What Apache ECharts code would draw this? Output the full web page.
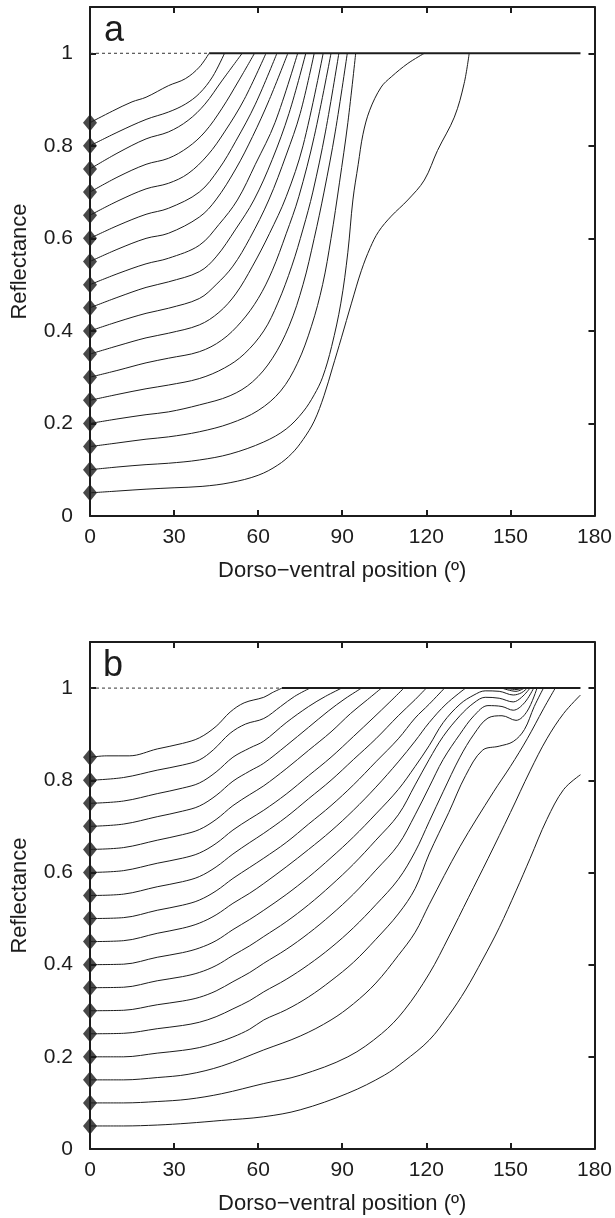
<!DOCTYPE html>
<html>
<head>
<meta charset="utf-8">
<script src="https://cdn.jsdelivr.net/npm/echarts@6/dist/echarts.min.js"></script>
<style>
html,body{margin:0;padding:0;background:#fff;}
#chart{width:615px;height:1218px;}
</style>
</head>
<body>
<div id="chart"></div>
<script>
// ---------- tick labels ----------
const xTicks = [0, 30, 60, 90, 120, 150, 180];
const yTicks = [0, 0.2, 0.4, 0.6, 0.8, 1];
const yTickLabels = ['0', '0.2', '0.4', '0.6', '0.8', '1'];
const startValues = [0.05,0.10,0.15,0.20,0.25,0.30,0.35,0.40,0.45,0.50,0.55,0.60,0.65,0.70,0.75,0.80,0.85];
const panelLabels = ['a', 'b'];
const xTitle = 'Dorso\u2212ventral position (\u00ba)';
const yTitle = 'Reflectance';

// ---------- panel a curves [position, reflectance] ----------
const a05 = [[0,.05],[10,.054],[20,.058],[30,.061],[40,.064],[50,.072],[60,.088],[67,.11],[72,.135],[76,.165],[80,.205],[83.5,.26],[86.5,.32],[89.7,.385],[93.3,.46],[96.8,.53],[100,.58],[103,.615],[107.5,.648],[113.4,.683],[119.3,.726],[124,.79],[130,.862],[133.5,.935],[135.3,1]];
const a10 = [[0,.1],[10,.106],[20,.111],[28,.114],[39,.121],[50,.134],[62,.16],[70,.188],[76,.225],[80,.262],[83,.3],[86.2,.366],[89.5,.46],[92,.57],[93.8,.683],[95.7,.76],[97.4,.825],[99.8,.877],[103.9,.927],[107.5,.949],[113.4,.978],[119.3,1]];
const a15 = [[0,.15],[10,.158],[20,.166],[28,.171],[39,.182],[50,.2],[60,.228],[68,.27],[74,.33],[79,.41],[83,.5],[86,.6],[89,.72],[92,.85],[94.8,1]];
const a20 = [[0,.2],[10,.21],[20,.219],[28,.225],[39,.24],[50,.26],[58,.29],[65,.34],[71,.41],[76,.5],[80,.6],[83.5,.7],[87.5,.83],[91.8,1]];
const a25 = [[0,.25],[10,.263],[20,.275],[28,.283],[39,.297],[48,.32],[55,.35],[62,.4],[67,.46],[72,.54],[76,.62],[79.5,.7],[84,.83],[88.8,1]];
const a30 = [[0,.3],[10,.315],[20,.331],[28,.341],[39,.355],[47,.38],[54,.42],[60,.47],[65,.53],[70,.61],[74.5,.69],[80,.82],[86,1]];
const a35 = [[0,.35],[10,.368],[20,.385],[28,.395],[39,.413],[46,.44],[52,.48],[58,.54],[64,.61],[70,.69],[76,.8],[83.2,1]];
const a40 = [[0,.4],[10,.42],[20,.438],[28,.449],[39,.47],[45,.5],[51,.54],[57,.6],[63.8,.683],[70,.78],[75,.87],[80,1]];
const a45 = [[0,.45],[10,.473],[20,.494],[28,.506],[39,.528],[45,.56],[52,.62],[58.5,.683],[65,.77],[71,.87],[77,1]];
const a50 = [[0,.5],[10,.524],[20,.545],[28,.557],[39,.585],[46,.63],[52.6,.683],[59,.76],[66,.85],[74.1,1]];
const a55 = [[0,.55],[10,.577],[20,.6],[28,.611],[39,.646],[44.9,.683],[52,.75],[58,.82],[64,.9],[70.6,1]];
const a60 = [[0,.6],[10,.628],[20,.652],[28,.665],[39,.7],[46,.75],[52,.81],[59,.89],[66.7,1]];
const a65 = [[0,.65],[10,.681],[20,.707],[28,.719],[35,.74],[42,.78],[48,.83],[55,.9],[62.8,1]];
const a70 = [[0,.7],[10,.733],[20,.76],[28,.773],[35,.797],[41,.83],[47,.88],[53,.94],[58.7,1]];
const a75 = [[0,.75],[10,.785],[20,.815],[28,.83],[35,.855],[41,.89],[47,.94],[54.3,1]];
const a80 = [[0,.8],[10,.83],[20,.857],[28,.873],[34,.89],[39,.913],[43.7,.949],[48,1]];
const a85 = [[0,.85],[8,.875],[15,.895],[20,.905],[28,.93],[34,.945],[39,.97],[42.5,1]];
const aDashed = [[0,1],[42.5,1]];
const aSolid = [[42.5,1],[175,1]];

// ---------- panel b curves ----------
const b05 = [[0,.05],[12,.05],[24,.052],[35,.056],[47,.062],[62,.07],[75,.085],[92,.121],[105,.16],[112,.19],[121,.236],[128,.29],[134,.345],[140,.41],[146,.48],[152,.56],[157,.63],[163,.715],[169,.78],[175,.812]];
const b10 = [[0,.1],[12,.1],[24,.103],[35,.108],[47,.12],[62,.142],[75,.16],[92,.2],[104,.25],[112,.3],[121,.38],[128,.46],[135,.545],[142,.63],[150,.73],[157,.82],[163,.89],[169,.945],[175,.985]];
const b15 = [[0,.15],[12,.15],[24,.155],[35,.162],[47,.18],[62,.215],[75,.245],[86,.28],[94,.315],[102,.36],[110,.42],[116,.47],[121,.53],[132,.656],[144,.775],[150,.83],[156,.89],[161.8,.955],[166,1]];
const b20 = [[0,.2],[12,.2],[24,.208],[33,.214],[39,.22],[45,.23],[51,.243],[57,.26],[62,.28],[70,.302],[78,.33],[86,.365],[94,.405],[102,.455],[110,.51],[116,.565],[121,.64],[128,.73],[134,.81],[140,.865],[146,.874],[151,.884],[155,.91],[158.5,.96],[161.8,1]];
const b25 = [[0,.25],[12,.251],[24,.261],[33,.268],[39,.275],[45,.287],[51,.304],[57,.322],[62,.341],[70,.368],[78,.4],[86,.437],[94,.48],[102,.53],[110,.585],[116,.645],[121,.71],[126,.775],[132,.85],[137,.9],[142,.935],[147,.94],[152,.93],[156,.95],[159.5,1]];
const b30 = [[0,.3],[12,.301],[24,.313],[33,.321],[39,.329],[45,.343],[51,.363],[57,.383],[62,.403],[70,.433],[78,.468],[86,.508],[94,.553],[102,.605],[110,.66],[116,.725],[121,.785],[126,.845],[132,.9],[137,.94],[142,.962],[147,.96],[151,.952],[155,.968],[158.3,1]];
const b35 = [[0,.35],[12,.351],[24,.365],[33,.374],[39,.383],[45,.398],[51,.42],[57,.441],[62,.461],[70,.493],[78,.53],[86,.572],[94,.618],[102,.67],[110,.725],[116,.79],[121,.845],[126,.895],[132,.94],[137,.968],[141,.98],[146,.978],[151,.97],[154,.98],[157,1]];
const b40 = [[0,.4],[12,.401],[24,.416],[33,.426],[39,.436],[45,.452],[51,.476],[57,.498],[62,.518],[70,.552],[78,.59],[86,.632],[94,.677],[102,.727],[110,.78],[116,.83],[121,.875],[126,.925],[132,.965],[137,.985],[141,.994],[146,.993],[151,.985],[154,.99],[156,1]];
const b45 = [[0,.45],[12,.452],[24,.468],[33,.479],[39,.49],[45,.508],[51,.533],[57,.555],[62,.576],[70,.612],[78,.65],[86,.69],[94,.735],[102,.785],[110,.84],[116,.885],[121,.925],[127,.965],[134,1],null,[147,1],[152,.993],[155,1]];
const b50 = [[0,.5],[12,.502],[24,.518],[33,.529],[39,.54],[45,.56],[51,.587],[57,.611],[62,.631],[70,.665],[78,.705],[86,.745],[94,.79],[102,.84],[110,.89],[116,.935],[121,.965],[126.5,1],null,[148,1],[152,.997],[154.5,1]];
const b55 = [[0,.55],[12,.553],[24,.569],[33,.58],[39,.591],[45,.612],[51,.64],[57,.665],[62,.685],[70,.72],[78,.76],[86,.8],[94,.845],[102,.89],[110,.94],[116,.975],[120,1]];
const b60 = [[0,.6],[12,.604],[24,.62],[33,.631],[39,.642],[45,.663],[51,.692],[57,.716],[62,.735],[70,.77],[78,.81],[86,.85],[94,.895],[101,.935],[107,.97],[112,1]];
const b65 = [[0,.65],[12,.654],[24,.67],[33,.682],[39,.693],[45,.715],[51,.745],[57,.769],[62,.788],[70,.825],[78,.865],[86,.905],[93,.945],[99,.975],[104,1]];
const b70 = [[0,.7],[12,.705],[24,.721],[33,.733],[39,.744],[45,.767],[51,.798],[57,.82],[62,.837],[70,.875],[78,.915],[85,.95],[91,.977],[96.9,1]];
const b75 = [[0,.75],[12,.755],[24,.771],[33,.783],[39,.794],[45,.818],[51,.85],[57,.87],[62,.885],[70,.925],[78,.96],[84,.982],[89.8,1]];
const b80 = [[0,.8],[12,.806],[24,.822],[33,.833],[39,.844],[44,.866],[50,.902],[55.5,.922],[62,.934],[68,.96],[73,.982],[78.5,1]];
const b85 = [[0,.85],[6,.853],[14,.853],[24,.868],[33,.88],[39,.892],[45,.917],[50,.948],[55,.968],[62,.98],[65,.99],[68.5,1]];
const bDashed = [[0,1],[68.5,1]];
const bSolid = [[68.5,1],[175,1]];

const panelA = [a05,a10,a15,a20,a25,a30,a35,a40,a45,a50,a55,a60,a65,a70,a75,a80,a85];
const panelB = [b05,b10,b15,b20,b25,b30,b35,b40,b45,b50,b55,b60,b65,b70,b75,b80,b85];

// ---------- chart ----------
const INK = '#1c1c1c';
const FONT = 'Liberation Sans, Arial, Helvetica, sans-serif';
const grids = [
  {left: 90, width: 508, top: 7, height: 509},
  {left: 90, width: 508, top: 642, height: 507}
];

function yLabel(v) {
  for (let i = 0; i < yTicks.length; i++) if (Math.abs(v - yTicks[i]) < 1e-6) return yTickLabels[i];
  return '';
}
function xLabel(v) {
  return xTicks.indexOf(Math.round(v)) >= 0 ? String(Math.round(v)) : '';
}

const xAxes = [], yAxes = [];
grids.forEach((g, gi) => {
  const base = {
    gridIndex: gi, type: 'value', min: xTicks[0], max: xTicks[xTicks.length-1], interval: 30,
    splitLine: {show: false},
    axisLine: {show: true, onZero: false, lineStyle: {color: INK, width: 2}},
    axisTick: {show: true, inside: true, length: 6, lineStyle: {color: INK, width: 2}}
  };
  xAxes.push(Object.assign({}, base, {
    position: 'bottom',
    name: xTitle, nameLocation: 'middle', nameGap: 44,
    nameTextStyle: {fontFamily: FONT, fontSize: 22, color: INK},
    axisLabel: {show: true, margin: 11, fontFamily: FONT, fontSize: 21, color: INK, formatter: xLabel}
  }));
  xAxes.push(Object.assign({}, base, {position: 'top', axisLabel: {show: false}}));
  const ybase = {
    gridIndex: gi, type: 'value', min: 0, max: 1.1, interval: 0.2,
    splitLine: {show: false},
    axisLine: {show: true, onZero: false, lineStyle: {color: INK, width: 2}},
    axisTick: {show: true, inside: true, length: 6, lineStyle: {color: INK, width: 2},
               customValues: yTicks}
  };
  yAxes.push(Object.assign({}, ybase, {
    position: 'left',
    name: yTitle, nameLocation: 'middle', nameGap: 59, nameRotate: 90,
    nameTextStyle: {fontFamily: FONT, fontSize: 22, color: INK},
    axisLabel: {show: true, margin: 17, fontFamily: FONT, fontSize: 21, color: INK,
                formatter: yLabel, customValues: yTicks}
  }));
  yAxes.push(Object.assign({}, ybase, {position: 'right', axisLabel: {show: false}}));
});

const series = [];
function addPanel(curves, dashed, solid, gi) {
  const xi = gi * 2, yi = gi * 2;
  series.push({
    type: 'line', xAxisIndex: xi, yAxisIndex: yi, data: dashed, showSymbol: false, silent: true,
    lineStyle: {color: '#333', width: 1, type: [3, 3]}, z: 1
  });
  curves.forEach(c => {
    series.push({
      type: 'line', xAxisIndex: xi, yAxisIndex: yi, data: c, showSymbol: false, silent: true,
      smooth: 0.35, connectNulls: false, lineStyle: {color: INK, width: 1}, z: 2
    });
  });
  series.push({
    type: 'line', xAxisIndex: xi, yAxisIndex: yi, data: solid, showSymbol: false, silent: true,
    lineStyle: {color: INK, width: 2}, z: 3
  });
  series.push({
    type: 'scatter', xAxisIndex: xi, yAxisIndex: yi, symbol: 'diamond', symbolSize: [14, 17],
    data: startValues.map(v => [0, v]), itemStyle: {color: INK}, clip: false, silent: true, z: 4
  });
}
addPanel(panelA, aDashed, aSolid, 0);
addPanel(panelB, bDashed, bSolid, 1);

const chart = echarts.init(document.getElementById('chart'), null, {renderer: 'canvas'});
chart.setOption({
  animation: false,
  backgroundColor: '#ffffff',
  grid: grids,
  xAxis: xAxes,
  yAxis: yAxes,
  series: series,
  graphic: [
    {type: 'text', left: 104, top: 13, style: {text: panelLabels[0], font: '36px ' + FONT, fill: INK}},
    {type: 'text', left: 103, top: 648, style: {text: panelLabels[1], font: '36px ' + FONT, fill: INK}}
  ]
});
</script>
</body>
</html>
